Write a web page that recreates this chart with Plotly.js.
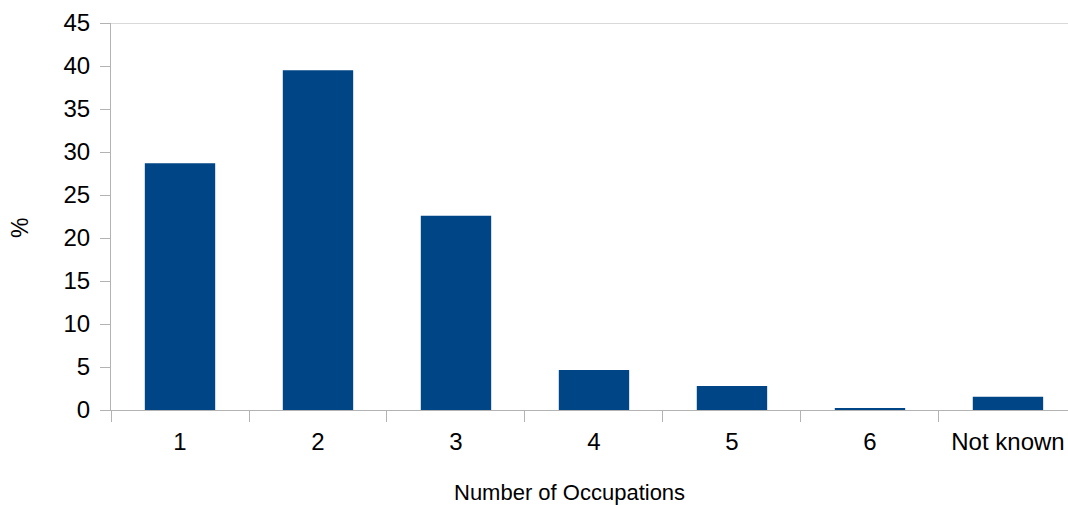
<!DOCTYPE html>
<html>
<head>
<meta charset="utf-8">
<script src="https://cdn.plot.ly/plotly-3.0.1.min.js"></script>
<style>html,body{margin:0;padding:0;background:#fff;}#chart{width:1068px;height:505px;}</style>
</head>
<body>
<div id="chart"></div>
<script>
const categories = ["1", "2", "3", "4", "5", "6", "Not known"];
const percentValues = [28.7, 39.5, 22.6, 4.65, 2.8, 0.23, 1.55];
const yTickValues = [0, 5, 10, 15, 20, 25, 30, 35, 40, 45];
const xAxisTitle = "Number of Occupations";
const yAxisTitle = "%";

const font = "Liberation Sans, Arial, sans-serif";
const axisColor = "#b3b3b3";

const trace = {
  type: "bar",
  x: categories,
  y: percentValues,
  marker: { color: "#004586", line: { width: 0 } },
  hoverinfo: "x+y"
};

const layout = {
  width: 1068,
  height: 505,
  margin: { l: 111, r: 0, t: 23, b: 95, pad: 0 },
  paper_bgcolor: "#ffffff",
  plot_bgcolor: "#ffffff",
  bargap: 0.49,
  showlegend: false,
  font: { family: font, color: "#000000" },
  xaxis: {
    type: "category",
    range: [-0.5, 6.435],
    tickson: "boundaries",
    ticks: "outside",
    ticklen: 11,
    tickwidth: 1,
    tickcolor: axisColor,
    showline: true,
    linecolor: axisColor,
    linewidth: 1,
    showgrid: false,
    zeroline: false,
    ticklabelstandoff: 10,
    tickfont: { family: font, size: 24, color: "#000000" },
    fixedrange: true
  },
  yaxis: {
    range: [0, 45],
    tickvals: yTickValues,
    ticktext: yTickValues.map(String),
    ticks: "outside",
    ticklen: 10,
    tickwidth: 1,
    tickcolor: axisColor,
    showline: true,
    linecolor: axisColor,
    linewidth: 1,
    showgrid: false,
    zeroline: false,
    ticklabelstandoff: 5,
    tickfont: { family: font, size: 24, color: "#000000" },
    fixedrange: true
  },
  shapes: [{
    type: "line", xref: "paper", yref: "y",
    x0: 0, x1: 1, y0: 45, y1: 45,
    line: { color: axisColor, width: 1 }
  }],
  annotations: [
    {
      text: xAxisTitle, xref: "paper", yref: "paper",
      x: 0.4796, y: 0, xanchor: "center", yanchor: "middle", yshift: -82,
      showarrow: false, font: { family: font, size: 22, color: "#000000" }
    },
    {
      text: yAxisTitle, xref: "paper", yref: "paper",
      x: 0, y: 0.47, xanchor: "center", yanchor: "middle", xshift: -91,
      textangle: -90, showarrow: false, font: { family: font, size: 23, color: "#000000" }
    }
  ]
};

Plotly.newPlot("chart", [trace], layout, { staticPlot: true, displayModeBar: false });
</script>
</body>
</html>
